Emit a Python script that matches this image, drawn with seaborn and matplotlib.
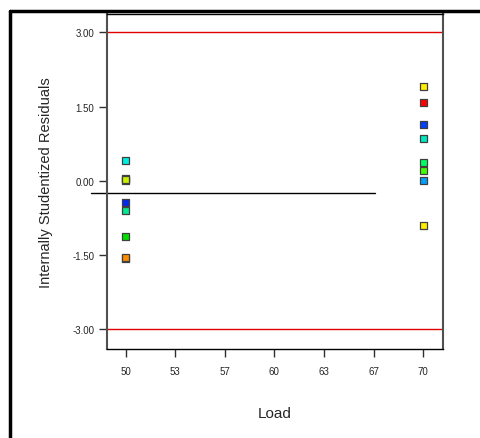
import matplotlib
matplotlib.use("Agg")
import matplotlib.pyplot as plt
from matplotlib.lines import Line2D
import seaborn as sns
import pandas as pd

# ---- data ----
load = [50, 50, 50, 50, 50, 50, 50, 50, 50,
        70, 70, 70, 70, 70, 70, 70, 70]
residuals = [0.41, 0.00, 0.04, -0.44, -0.61, -1.12, -1.58, -1.55,
             0.02,
             1.90, 1.58, 1.14, 0.86, 0.37, 0.20, 0.00, -0.91]
point_colors = ["#00f0e0", "#a08000", "#c8f000", "#0028f0", "#00e890", "#00e000", "#c06000", "#ff8c00",
                "#c8f000",
                "#ffee00", "#ff0000", "#0040ff", "#00e8c0", "#00ff60", "#40ff00", "#00a0ff", "#ffee00"]
x_ticks = [50, 53.333, 56.667, 60, 63.333, 66.667, 70]
x_tick_labels = ["50", "53", "57", "60", "63", "67", "70"]
y_ticks = [-3.0, -1.5, 0.0, 1.5, 3.0]
y_tick_labels = ["-3.00", "-1.50", "0.00", "1.50", "3.00"]
limit_lines = [3.0, -3.0]
mean_line_y = -0.24
mean_line_x = [47.67, 66.75]

df = pd.DataFrame({"Load": load, "Residual": residuals,
                   "id": list(range(len(load)))})

sns.set_style("white")
plt.rcParams["font.family"] = ["Liberation Sans", "DejaVu Sans"]

fig = plt.figure(figsize=(4.81, 4.39), dpi=100)
ax = fig.add_axes([107 / 481, 1 - 350 / 439, (443 - 107) / 481, (350 - 15) / 439])

for yl in limit_lines:
    ax.axhline(yl, color="#e00000", lw=1.0, zorder=1)

ax.plot(mean_line_x, [mean_line_y, mean_line_y], color="black", lw=1.0,
        clip_on=False, zorder=2)

sns.scatterplot(data=df, x="Load", y="Residual", hue="id",
                palette=point_colors, marker="s", s=26,
                edgecolor="#404040", linewidth=0.9, legend=False,
                ax=ax, zorder=3)

ax.set_xlim(48.74, 71.34)
ax.set_ylim(-3.40, 3.37)
ax.set_xticks(x_ticks)
ax.set_xticklabels(x_tick_labels)
ax.set_yticks(y_ticks)
ax.set_yticklabels(y_tick_labels)
ax.tick_params(axis="both", which="major", labelsize=7, direction="out",
               length=6, width=1.0, color="#303030", pad=3, bottom=True, left=True)
ax.tick_params(axis="x", pad=6)

for side in ["top", "bottom"]:
    ax.spines[side].set_color("black")
    ax.spines[side].set_linewidth(1.0)
for side in ["left", "right"]:
    ax.spines[side].set_color("#505050")
    ax.spines[side].set_linewidth(1.5)

ax.set_xlabel("Load", fontsize=11, labelpad=22)
ax.set_ylabel("Internally Studentized Residuals", fontsize=10.5, labelpad=14)

# outer frame
fig.add_artist(Line2D([10 / 481, 1.0], [1 - 12 / 439, 1 - 12 / 439],
                      transform=fig.transFigure, color="black", lw=2.5))
fig.add_artist(Line2D([10 / 481, 10 / 481], [0.0, 1 - 12 / 439],
                      transform=fig.transFigure, color="black", lw=2.5))

fig.savefig("out.png", dpi=100)
